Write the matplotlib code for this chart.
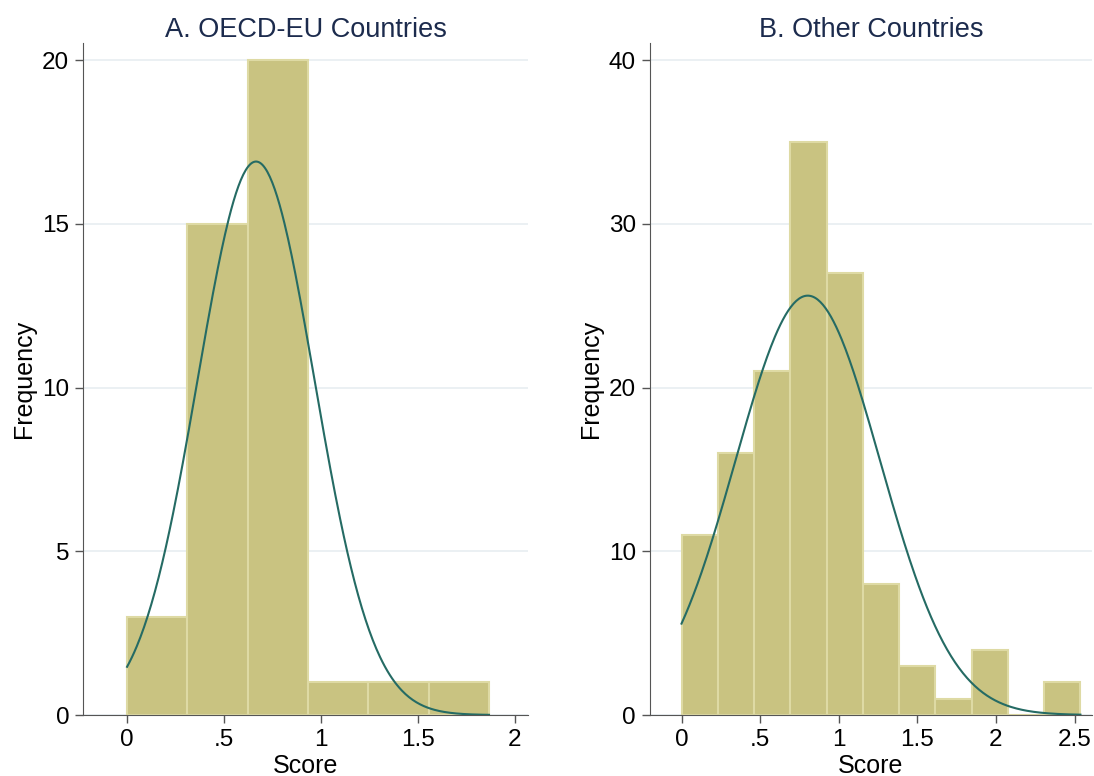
import matplotlib
matplotlib.use('Agg')
import matplotlib.pyplot as plt
import numpy as np

plt.rcParams['font.family'] = ['Liberation Sans', 'DejaVu Sans']

# DATA

# A. OECD-EU countries
edges_a = [0.0, 0.311, 0.622, 0.933, 1.244, 1.555, 1.866]
counts_a = [3, 15, 20, 1, 1, 1]
mean_a = 0.665
sd_a = 0.301

# B. Other countries
edges_b = [0.0, 0.2307, 0.4614, 0.6921, 0.9228, 1.1535, 1.3842,
           1.6149, 1.8456, 2.0763, 2.307, 2.5377]
counts_b = [11, 16, 21, 35, 27, 8, 3, 1, 4, 0, 2]
mean_b = 0.803
sd_b = 0.46

titles = ['A. OECD-EU Countries', 'B. Other Countries']
xticks_a = [0, 0.5, 1, 1.5, 2]
xticks_b = [0, 0.5, 1, 1.5, 2, 2.5]
yticks_a = [0, 5, 10, 15, 20]
yticks_b = [0, 10, 20, 30, 40]

bar_color = '#c9c381'
edge_color = '#dedaa4'
line_color = '#256b64'
grid_color = '#e9eff2'
title_color = '#1c2b4d'


def tick_fmt(v):
    s = ('%g' % v)
    if s.startswith('0.'):
        s = s[1:]
    return s


def draw_panel(ax, edges, counts, mean, sd, title, xticks, yticks, xlim, ylim):
    edges = np.array(edges)
    counts = np.array(counts)
    widths = np.diff(edges)
    ax.bar(edges[:-1], counts, width=widths, align='edge', color=bar_color,
           edgecolor=edge_color, linewidth=1.5, zorder=2)

    # normal density scaled to frequency
    n = counts.sum()
    w = widths.mean()
    xs = np.linspace(edges[0], edges[-1], 300)
    ys = n * w / (sd * np.sqrt(2 * np.pi)) * np.exp(-(xs - mean) ** 2 / (2 * sd ** 2))
    ax.plot(xs, ys, color=line_color, linewidth=1.5, zorder=3)

    ax.set_xlim(*xlim)
    ax.set_ylim(*ylim)
    ax.set_xticks(xticks)
    ax.set_xticklabels([tick_fmt(v) for v in xticks])
    ax.set_yticks(yticks)
    ax.set_yticklabels([tick_fmt(v) for v in yticks])
    ax.yaxis.grid(True, color=grid_color, linewidth=1.3, zorder=0)
    ax.set_axisbelow(True)

    for s in ['top', 'right']:
        ax.spines[s].set_visible(False)
    ax.spines['left'].set_color('#555555')
    ax.spines['bottom'].set_color('#555555')
    ax.spines['bottom'].set_position(('data', 0))
    ax.tick_params(axis='both', direction='out', length=6, width=1, color='#555555',
                   labelsize=17.5, pad=4)

    ax.set_title(title, fontsize=19.5, color=title_color, pad=4)
    ax.set_xlabel('Score', fontsize=18, labelpad=2)
    ax.set_ylabel('Frequency', fontsize=18, labelpad=4)


fig = plt.figure(figsize=(10.94, 7.76), dpi=100)
ax1 = fig.add_axes([0.0759, 0.0786, 0.4067, 0.866])
ax2 = fig.add_axes([0.594, 0.0786, 0.404, 0.866])

draw_panel(ax1, edges_a, counts_a, mean_a, sd_a, titles[0], xticks_a, yticks_a,
           (-0.227, 2.067), (0, 20.52))
draw_panel(ax2, edges_b, counts_b, mean_b, sd_b, titles[1], xticks_b, yticks_b,
           (-0.2015, 2.61), (0, 41.04))

fig.savefig('out.png', dpi=100)
